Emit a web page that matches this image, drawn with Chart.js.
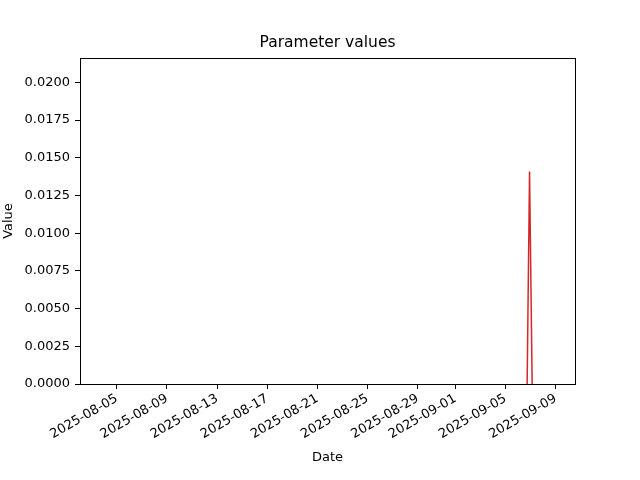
<!DOCTYPE html>
<html>
<head>
<meta charset="utf-8">
<script src="https://cdn.jsdelivr.net/npm/chart.js@4"></script>
<style>
  html, body { margin: 0; padding: 0; background: #ffffff; }
  #wrap { width: 640px; height: 480px; }
</style>
</head>
<body>
<div id="wrap"><canvas id="param-chart" width="640" height="480"></canvas></div>
<script>
// Datos
const dates = [
  "2025-08-03T21:00", "2025-08-04T21:00", "2025-08-05T21:00", "2025-08-06T21:00",
  "2025-08-07T21:00", "2025-08-08T21:00", "2025-08-09T21:00", "2025-08-10T21:00",
  "2025-08-11T21:00", "2025-08-12T21:00", "2025-08-13T21:00", "2025-08-14T21:00",
  "2025-08-15T21:00", "2025-08-16T21:00", "2025-08-17T21:00", "2025-08-18T21:00",
  "2025-08-19T21:00", "2025-08-20T21:00", "2025-08-21T21:00", "2025-08-22T21:00",
  "2025-08-23T21:00", "2025-08-24T21:00", "2025-08-25T21:00", "2025-08-26T21:00",
  "2025-08-27T21:00", "2025-08-28T21:00", "2025-08-29T21:00", "2025-08-30T21:00",
  "2025-08-31T21:00", "2025-09-01T21:00", "2025-09-02T21:00", "2025-09-03T21:00",
  "2025-09-04T21:00", "2025-09-05T21:00", "2025-09-06T22:00", "2025-09-07T21:00",
  "2025-09-08T18:00"
];
const values = [
  -0.055, -0.058, -0.061, -0.057, -0.054, -0.059, -0.062, -0.056,
  -0.053, -0.058, -0.060, -0.057, -0.055, -0.061, -0.059, -0.054,
  -0.056, -0.060, -0.058, -0.055, -0.057, -0.062, -0.059, -0.056,
  -0.054, -0.058, -0.061, -0.057, -0.055, -0.059, -0.060, -0.056,
  -0.058, -0.062, 0.0141, -0.051, -0.056
];
const xTickLabels = [
  "2025-08-05", "2025-08-09", "2025-08-13", "2025-08-17", "2025-08-21",
  "2025-08-25", "2025-08-29", "2025-09-01", "2025-09-05", "2025-09-09"
];
const yTickValues = [0, 0.0025, 0.005, 0.0075, 0.01, 0.0125, 0.015, 0.0175, 0.02];

const chartTitle = "Parameter values";

const xMin = Date.parse("2025-08-02T01:30Z");
const xMax = Date.parse("2025-09-10T13:00Z");
const yMax = 0.02162;

const FONT = "'DejaVu Sans', sans-serif";

// Marco completo alrededor del área del gráfico + título centrado sobre ella
const framePlugin = {
  id: "frame",
  afterDraw(chart) {
    const { ctx, chartArea } = chart;
    ctx.save();
    ctx.strokeStyle = "#000000";
    ctx.lineWidth = 1;
    ctx.strokeRect(
      Math.round(chartArea.left) + 0.5,
      Math.round(chartArea.top) + 0.5,
      Math.round(chartArea.right - chartArea.left),
      Math.round(chartArea.bottom - chartArea.top)
    );

    ctx.fillStyle = "#000000";
    ctx.font = "15.5px " + FONT;
    ctx.textAlign = "center";
    ctx.textBaseline = "middle";
    ctx.fillText(chartTitle, (chartArea.left + chartArea.right) / 2, chartArea.top - 15);
    ctx.restore();
  },
};

const points = dates.map((d, i) => ({ x: Date.parse(d + "Z"), y: values[i] }));

const ctx = document.getElementById("param-chart").getContext("2d");
new Chart(ctx, {
  type: "line",
  data: {
    datasets: [
      {
        data: points,
        borderColor: "#d62728",
        borderWidth: 1.5,
        pointRadius: 0,
        fill: false,
        tension: 0,
      },
    ],
  },
  options: {
    responsive: false,
    animation: false,
    layout: { padding: { left: 0, right: 65, top: 58, bottom: 0 } },
    plugins: {
      legend: { display: false },
      tooltip: { enabled: false },
      title: { display: false },
    },
    scales: {
      x: {
        type: "linear",
        min: xMin,
        max: xMax,
        afterBuildTicks: function (scale) {
          scale.ticks = xTickLabels.map((d) => ({ value: Date.parse(d + "T00:00Z") }));
        },
        afterFit: function (scale) {
          scale.height = 96;
        },
        grid: {
          drawOnChartArea: false,
          drawTicks: true,
          tickLength: 5,
          tickColor: "#000000",
        },
        border: { color: "#000000" },
        ticks: {
          autoSkip: false,
          maxRotation: 30,
          minRotation: 30,
          padding: 2,
          color: "#000000",
          font: { family: FONT, size: 13 },
          callback: function (value) {
            return new Date(value).toISOString().slice(0, 10);
          },
        },
        title: {
          display: true,
          text: "Date",
          color: "#000000",
          font: { family: FONT, size: 13 },
          padding: { top: 0, bottom: 15 },
        },
      },
      y: {
        type: "linear",
        min: 0,
        max: yMax,
        afterBuildTicks: function (scale) {
          scale.ticks = yTickValues.map((v) => ({ value: v }));
        },
        afterFit: function (scale) {
          scale.width = 80;
        },
        grid: {
          drawOnChartArea: false,
          drawTicks: true,
          tickLength: 5,
          tickColor: "#000000",
        },
        border: { color: "#000000" },
        ticks: {
          padding: 5,
          color: "#000000",
          font: { family: FONT, size: 13 },
          callback: function (value) {
            return value.toFixed(4);
          },
        },
        title: {
          display: true,
          text: "Value",
          color: "#000000",
          font: { family: FONT, size: 13 },
          padding: { top: 1, bottom: 0 },
        },
      },
    },
  },
  plugins: [framePlugin],
});
</script>
</body>
</html>
